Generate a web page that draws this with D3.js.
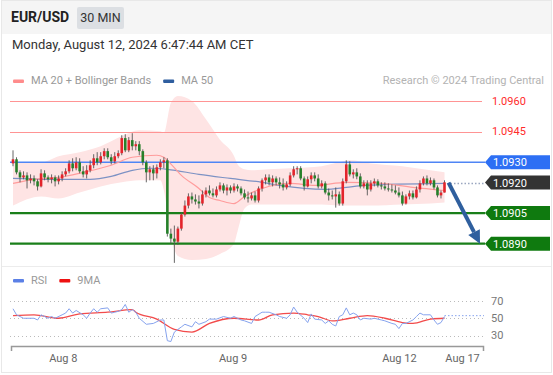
<!DOCTYPE html>
<html>
<head>
<meta charset="utf-8">
<script src="https://cdn.jsdelivr.net/npm/d3@7"></script>
<style>
body { margin: 0; background: #fff; }
text { font-family: Roboto, "Liberation Sans", Arial, sans-serif; }
</style>
</head>
<body>
<div id="chart"></div>
<script>
// ---- data ----
const pair = "EUR/USD"
const period = "30 MIN"
const stamp = "Monday, August 12, 2024 6:47:44 AM CET"

// 30 min candles [open, high, low, close]
const candles = [
  [1.09294,1.09358,1.09280,1.09314],[1.09314,1.09324,1.09240,1.09250],[1.09250,1.09260,1.09201,1.09225],
  [1.09225,1.09255,1.09216,1.09235],[1.09235,1.09250,1.09171,1.09211],[1.09211,1.09240,1.09196,1.09220],
  [1.09220,1.09235,1.09186,1.09206],[1.09206,1.09216,1.09161,1.09181],[1.09181,1.09265,1.09176,1.09245],
  [1.09245,1.09260,1.09211,1.09225],[1.09225,1.09235,1.09201,1.09216],[1.09216,1.09240,1.09196,1.09225],
  [1.09225,1.09235,1.09181,1.09206],[1.09206,1.09235,1.09191,1.09220],[1.09220,1.09255,1.09206,1.09240],
  [1.09240,1.09270,1.09230,1.09255],[1.09255,1.09309,1.09245,1.09294],[1.09294,1.09319,1.09255,1.09270],
  [1.09270,1.09324,1.09260,1.09299],[1.09299,1.09319,1.09245,1.09255],[1.09255,1.09280,1.09225,1.09240],
  [1.09240,1.09285,1.09220,1.09260],[1.09260,1.09309,1.09250,1.09285],[1.09285,1.09339,1.09270,1.09319],
  [1.09319,1.09349,1.09285,1.09299],[1.09299,1.09349,1.09289,1.09329],[1.09329,1.09368,1.09314,1.09354],
  [1.09354,1.09368,1.09314,1.09324],[1.09324,1.09339,1.09289,1.09304],[1.09304,1.09349,1.09294,1.09329],
  [1.09329,1.09358,1.09319,1.09344],[1.09344,1.09432,1.09334,1.09418],[1.09418,1.09437,1.09349,1.09358],
  [1.09358,1.09423,1.09349,1.09408],[1.09408,1.09442,1.09358,1.09378],[1.09378,1.09403,1.09358,1.09388],
  [1.09388,1.09403,1.09334,1.09354],[1.09354,1.09363,1.09285,1.09299],[1.09299,1.09309,1.09201,1.09250],
  [1.09250,1.09280,1.09211,1.09265],[1.09265,1.09285,1.09211,1.09245],[1.09245,1.09289,1.09220,1.09275],
  [1.09275,1.09314,1.09260,1.09299],[1.09299,1.09324,1.09270,1.09309],[1.09309,1.09319,1.08935,1.08949],
  [1.08949,1.08974,1.08900,1.08925],[1.08925,1.08989,1.08806,1.08910],[1.08910,1.08984,1.08895,1.08974],
  [1.08974,1.09053,1.08964,1.09043],[1.09043,1.09112,1.09033,1.09087],[1.09087,1.09147,1.09073,1.09132],
  [1.09132,1.09151,1.09097,1.09117],[1.09117,1.09142,1.09092,1.09107],[1.09107,1.09137,1.09073,1.09097],
  [1.09097,1.09161,1.09087,1.09142],[1.09142,1.09176,1.09127,1.09161],[1.09161,1.09186,1.09137,1.09147],
  [1.09147,1.09171,1.09127,1.09137],[1.09137,1.09181,1.09127,1.09166],[1.09166,1.09201,1.09156,1.09186],
  [1.09186,1.09196,1.09147,1.09161],[1.09161,1.09191,1.09137,1.09176],[1.09176,1.09186,1.09147,1.09161],
  [1.09161,1.09196,1.09151,1.09181],[1.09181,1.09191,1.09156,1.09171],[1.09171,1.09181,1.09137,1.09147],
  [1.09147,1.09166,1.09117,1.09127],[1.09127,1.09156,1.09102,1.09122],[1.09122,1.09151,1.09112,1.09137],
  [1.09137,1.09156,1.09102,1.09112],[1.09112,1.09181,1.09102,1.09171],[1.09171,1.09220,1.09156,1.09211],
  [1.09211,1.09240,1.09191,1.09225],[1.09225,1.09240,1.09186,1.09201],[1.09201,1.09235,1.09181,1.09220],
  [1.09220,1.09230,1.09186,1.09201],[1.09201,1.09225,1.09171,1.09191],[1.09191,1.09220,1.09161,1.09176],
  [1.09176,1.09206,1.09166,1.09191],[1.09191,1.09250,1.09181,1.09235],[1.09235,1.09280,1.09225,1.09265],
  [1.09265,1.09280,1.09240,1.09270],[1.09270,1.09280,1.09211,1.09220],[1.09220,1.09230,1.09161,1.09181],
  [1.09181,1.09230,1.09176,1.09216],[1.09216,1.09250,1.09196,1.09235],[1.09235,1.09250,1.09206,1.09220],
  [1.09220,1.09240,1.09171,1.09181],[1.09181,1.09211,1.09171,1.09196],[1.09196,1.09206,1.09142,1.09151],
  [1.09151,1.09171,1.09112,1.09137],[1.09137,1.09161,1.09117,1.09132],[1.09132,1.09176,1.09077,1.09142],
  [1.09142,1.09156,1.09087,1.09097],[1.09097,1.09220,1.09087,1.09206],[1.09206,1.09309,1.09196,1.09289],
  [1.09289,1.09304,1.09230,1.09240],[1.09240,1.09265,1.09220,1.09250],[1.09250,1.09270,1.09216,1.09230],
  [1.09230,1.09245,1.09171,1.09181],[1.09181,1.09211,1.09171,1.09196],[1.09196,1.09211,1.09137,1.09166],
  [1.09166,1.09211,1.09156,1.09196],[1.09196,1.09220,1.09181,1.09206],[1.09206,1.09216,1.09176,1.09186],
  [1.09186,1.09201,1.09166,1.09181],[1.09181,1.09201,1.09161,1.09171],[1.09171,1.09196,1.09156,1.09166],
  [1.09166,1.09191,1.09151,1.09161],[1.09161,1.09186,1.09142,1.09151],[1.09151,1.09176,1.09127,1.09137],
  [1.09137,1.09156,1.09087,1.09097],[1.09097,1.09142,1.09092,1.09132],[1.09132,1.09161,1.09117,1.09147],
  [1.09147,1.09161,1.09117,1.09127],[1.09127,1.09181,1.09122,1.09166],[1.09166,1.09211,1.09151,1.09196],
  [1.09196,1.09230,1.09186,1.09220],[1.09220,1.09235,1.09186,1.09196],[1.09196,1.09225,1.09186,1.09211],
  [1.09211,1.09220,1.09166,1.09176],[1.09176,1.09186,1.09127,1.09137],[1.09137,1.09161,1.09122,1.09151],
  [1.09151,1.09211,1.09151,1.09201]
]

// MA 20 (read at some bars)
const ma20Idx = [0,6,13,20,28,34,41,43,44,48,53,56,59,63,66,71,79,86,95,105,114,123]
const ma20 = [1.09196,1.09216,1.09225,1.09250,1.09285,1.09324,1.09334,1.09324,1.09309,1.09235,1.09171,
  1.09127,1.09112,1.09097,1.09132,1.09171,1.09196,1.09186,1.09201,1.09196,1.09176,1.09161]

// MA 50
const ma50Idx = [0,8,22,28,34,39,44,53,62,71,76,89,95,100,123]
const ma50 = [1.09220,1.09216,1.09216,1.09230,1.09260,1.09270,1.09265,1.09240,1.09220,1.09201,1.09186,
  1.09166,1.09176,1.09186,1.09196]

// Bollinger bands
const bandIdx = [0,8,13,19,25,31,36,42,43,45,47,51,55,59,63,64,66,68,73,79,88,93,96,102,111,119,123]
const bandUpper = [1.09299,1.09299,1.09329,1.09349,1.09378,1.09428,1.09457,1.09452,1.09442,1.09590,1.09625,
  1.09600,1.09510,1.09410,1.09330,1.09290,1.09265,1.09260,1.09265,1.09270,1.09280,1.09299,1.09309,
  1.09294,1.09280,1.09260,1.09250]
const bandLower = [1.09087,1.09132,1.09122,1.09151,1.09181,1.09201,1.09211,1.09211,1.09161,1.08940,1.08840,
  1.08820,1.08825,1.08850,1.08900,1.08960,1.09073,1.09092,1.09092,1.09092,1.09092,1.09087,1.09087,
  1.09087,1.09092,1.09097,1.09102]

// key levels
const resistances = [1.0960, 1.0945]
const pivot = 1.0930
const lastPrice = 1.0920
const supports = [1.0905, 1.0890]
const target = 1.0890

// RSI + 9MA
const rsiIdx = [0,1,3,6,7,8,10,11,12,14,15,16,17,18,20,21,22,23,24,25,27,28,29,30,31,32,33,34,35,36,
  38,40,42,43,44,45,46,48,49,51,52,53,55,56,58,60,62,63,65,66,68,69,71,72,73,75,76,78,79,80,
  81,83,84,85,86,88,89,90,91,92,93,94,95,96,97,98,99,100,102,103,105,106,108,109,110,111,112,114,115,116,
  117,119,120,121,122,123]
const rsi = [61,54,50,50,48,54,50,52,50,54,56,61,56,59,54,50,56,61,57,61,62,56,57,58,60,66,57,60,57,50,
  43,44,48,48,24,23,34,40,43,40,46,43,46,49,49,52,50,52,48,47,44,52,57,57,57,54,52,50,54,63,
  57,50,45,55,49,48,44,47,43,41,52,54,62,54,56,54,48,50,49,50,48,47,44,43,38,44,44,48,52,56,
  54,54,48,43,45,52]
const rsiNow = 53
const ma9Idx = [0,6,13,19,27,34,35,41,46,51,56,63,70,74,80,84,87,91,96,101,106,111,114,119,123]
const ma9 = [53,54,50,55,57,60,57,49,37,34,44,50,48,54,56,54,52,47,50,53,50,45,44,49,50]
const rsiLevels = [70, 50, 30]

// x axis labels at bar positions
const tickPos = [14.2, 62.6, 110, 128]
const tickLabels = ["Aug 8", "Aug 9", "Aug 12", "Aug 17"]

// ---- svg ----
const width = 553
const height = 375
const svg = d3.select("#chart").append("svg").attr("width", width).attr("height", height)

// frame + header
svg.append("rect").attr("x", 1.5).attr("y", 0.5).attr("width", 550).attr("height", 372)
    .attr("fill", "#fff").attr("stroke", "#e8e8e8")
svg.append("rect").attr("x", 2).attr("y", 1).attr("width", 549).attr("height", 33).attr("fill", "#f5f5f5")
svg.append("text").attr("x", 11).attr("y", 22).text(pair)
    .style("font-size", "14px").style("font-weight", "bold").attr("fill", "#222")
svg.append("rect").attr("x", 77).attr("y", 7).attr("width", 47).attr("height", 22).attr("rx", 2).attr("fill", "#dcdfe3")
svg.append("text").attr("x", 100.5).attr("y", 22).attr("text-anchor", "middle").text(period)
    .style("font-size", "12.5px").attr("fill", "#333")
svg.append("text").attr("x", 12).attr("y", 49).text(stamp).style("font-size", "13px").attr("fill", "#333")

// separator main / rsi
svg.append("line").attr("x1", 2).attr("x2", 551).attr("y1", 266.5).attr("y2", 266.5).attr("stroke", "#ececec")

// legends
function legend(items, yPos) {
    let xPos = 13
    items.forEach(it => {
        svg.append("rect").attr("x", xPos).attr("y", yPos - 4.5).attr("width", 11).attr("height", 3.5)
            .attr("rx", 1).attr("fill", it.color)
        const t = svg.append("text").attr("x", xPos + 18).attr("y", yPos).text(it.name)
            .style("font-size", "11px").attr("fill", "#999")
        xPos += 18 + t.node().getComputedTextLength() + 12
    })
}
legend([{name: "MA 20 + Bollinger Bands", color: "#ff8c8c"}, {name: "MA 50", color: "#2f5e9f"}], 84)
legend([{name: "RSI", color: "#5b80e6"}, {name: "9MA", color: "#ee1111"}], 283.5)
svg.append("text").attr("x", 544).attr("y", 84).attr("text-anchor", "end").text("Research © 2024 Trading Central")
    .style("font-size", "11px").attr("fill", "#b3b3b3")

// scales
const x = d3.scaleLinear().domain([0, candles.length - 1]).range([13, 444.5])
const y = d3.scaleLinear().domain([1.0890, 1.0960]).range([243.7, 101])
const yR = d3.scaleLinear().domain([30, 70]).range([335.5, 301])
const snap = v => Math.round(v) + 0.5

const main = svg.append("g").attr("id", "main")

// bollinger band area
main.append("path").datum(bandIdx)
    .attr("d", d3.area().x(d => x(d)).y0((d, i) => y(bandLower[i])).y1((d, i) => y(bandUpper[i])).curve(d3.curveMonotoneX))
    .attr("fill", "#fee4e4")

// level lines
const lineX1 = 10, lineX2 = 485
resistances.forEach(v => {
    main.append("line").attr("x1", lineX1).attr("x2", lineX2 - 3).attr("y1", snap(y(v))).attr("y2", snap(y(v)))
        .attr("stroke", "#ff9494").attr("stroke-width", 1)
})
main.append("line").attr("x1", lineX1).attr("x2", lineX2).attr("y1", y(pivot)).attr("y2", y(pivot))
    .attr("stroke", "#4f85f5").attr("stroke-width", 1.5)
supports.forEach(v => {
    main.append("line").attr("x1", lineX1).attr("x2", lineX2).attr("y1", y(v)).attr("y2", y(v))
        .attr("stroke", "#1a7f1a").attr("stroke-width", 2.2)
})

// moving averages
main.append("path").datum(ma50Idx)
    .attr("d", d3.line().x(d => x(d)).y((d, i) => y(ma50[i])).curve(d3.curveMonotoneX))
    .attr("fill", "none").attr("stroke", "#7d92c4").attr("stroke-width", 1.2)
main.append("path").datum(ma20Idx)
    .attr("d", d3.line().x(d => x(d)).y((d, i) => y(ma20[i])).curve(d3.curveMonotoneX))
    .attr("fill", "none").attr("stroke", "#ff9c9c").attr("stroke-width", 1.2)

// candles
const cg = main.selectAll("g.candle").data(candles).enter().append("g").attr("class", "candle")
cg.append("line")
    .attr("x1", (d, i) => x(i)).attr("x2", (d, i) => x(i))
    .attr("y1", d => y(d[1])).attr("y2", d => y(d[2]))
    .attr("stroke", "#555").attr("stroke-width", 0.9)
cg.append("rect")
    .attr("x", (d, i) => x(i) - 1.3).attr("width", 2.6)
    .attr("y", d => y(Math.max(d[0], d[3])))
    .attr("height", d => Math.max(1, Math.abs(y(d[0]) - y(d[3]))))
    .attr("fill", d => d[3] >= d[0] ? "#e3242b" : "#26802a")

// dotted line from last price to its label
const lastX = x(candles.length - 1)
main.append("line").attr("x1", lastX + 6).attr("x2", lineX2).attr("y1", y(lastPrice) + 1).attr("y2", y(lastPrice) + 1)
    .attr("stroke", "#9aa6c0").attr("stroke-width", 1.5).attr("stroke-dasharray", "1.5,2")

// forecast arrow
const ax1 = lastX + 4, ay1 = y(lastPrice)
const ax2 = 480, ay2 = y(target)
const ang = Math.atan2(ay2 - ay1, ax2 - ax1)
const headLen = 13, headW = 6.5
const bx = ax2 - headLen * Math.cos(ang), by = ay2 - headLen * Math.sin(ang)
main.append("line").attr("x1", ax1).attr("y1", ay1).attr("x2", bx).attr("y2", by)
    .attr("stroke", "#2f5f9e").attr("stroke-width", 4)
main.append("path")
    .attr("d", `M${ax2},${ay2} L${bx + headW * Math.sin(ang)},${by - headW * Math.cos(ang)} L${bx - headW * Math.sin(ang)},${by + headW * Math.cos(ang)} Z`)
    .attr("fill", "#2f5f9e")

// price labels
const fmt = d3.format(".4f")
resistances.forEach(v => {
    main.append("text").attr("x", 492).attr("y", y(v)).attr("dy", "0.35em").text(fmt(v))
        .style("font-size", "11px").attr("fill", "#ff2b2b")
})
function tag(v, color) {
    const cy = y(v)
    main.append("path")
        .attr("d", `M485,${cy} L491,${cy - 7} H550 V${cy + 7} H491 Z`)
        .attr("fill", color)
    main.append("text").attr("x", 493).attr("y", cy).attr("dy", "0.36em").text(fmt(v))
        .style("font-size", "11px").attr("fill", "#fff")
}
tag(pivot, "#2d6ff4")
tag(lastPrice, "#333333")
supports.forEach(v => tag(v, "#0f7a0f"))

// ---- RSI panel ----
const rsiG = svg.append("g").attr("id", "rsi")
rsiLevels.forEach(v => {
    rsiG.append("line").attr("x1", 10).attr("x2", 484).attr("y1", snap(yR(v))).attr("y2", snap(yR(v)))
        .attr("stroke", "#bbb").attr("stroke-dasharray", "1,3")
    rsiG.append("text").attr("x", 491).attr("y", yR(v)).attr("dy", "0.35em").text(v)
        .style("font-size", "11px").attr("fill", "#777")
})
rsiG.append("path").datum(ma9Idx)
    .attr("d", d3.line().x(d => x(d)).y((d, i) => yR(ma9[i])).curve(d3.curveMonotoneX))
    .attr("fill", "none").attr("stroke", "#f24b4b").attr("stroke-width", 1.3)
rsiG.append("path").datum(rsiIdx)
    .attr("d", d3.line().x(d => x(d)).y((d, i) => yR(rsi[i])))
    .attr("fill", "none").attr("stroke", "#86a3ee").attr("stroke-width", 1)
rsiG.append("line").attr("x1", lastX).attr("x2", 484).attr("y1", yR(rsiNow)).attr("y2", yR(rsiNow))
    .attr("stroke", "#86a3ee").attr("stroke-dasharray", "1.5,2")

// x axis
const xa = x.copy().domain([x.invert(11), x.invert(483)]).range([11, 483])
const xAxis = d3.axisBottom(xa).tickValues(tickPos).tickFormat((d, i) => tickLabels[i])
    .tickSizeInner(0).tickSizeOuter(5).tickPadding(8)
const xGroup = svg.append("g").attr("transform", "translate(0, 346)").call(xAxis)
xGroup.select(".domain").attr("stroke", "#999").attr("stroke-width", 1.5)
xGroup.selectAll("text").style("font-size", "11px").attr("fill", "#666")
    .style("font-family", "Roboto, 'Liberation Sans', Arial, sans-serif")
</script>
</body>
</html>
